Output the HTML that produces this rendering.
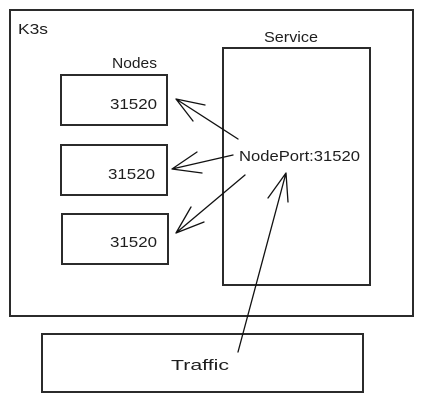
<!DOCTYPE html>
<html><head><meta charset="utf-8"><style>
html,body{margin:0;padding:0;background:#fff;}
svg{display:block;}
text{font-family:"Liberation Sans",sans-serif;fill:#1e1e1e;}
</style></head><body>
<svg width="423" height="403" viewBox="0 0 423 403" xmlns="http://www.w3.org/2000/svg">
<g fill="none" stroke="#2b2b2b" stroke-width="2">
<rect x="10" y="10" width="403" height="306"/>
<rect x="223" y="48" width="147" height="237"/>
<rect x="61" y="75" width="106" height="50"/>
<rect x="61" y="145" width="106" height="50"/>
<rect x="62" y="214" width="106" height="50"/>
<rect x="42" y="334" width="321" height="58"/>
</g>
<g fill="none" stroke="#111" stroke-width="1.3" stroke-linecap="round">
<path d="M238 139 L176 99 M176 99 L205 105 M176 99 L193 121"/>
<path d="M233 155 L172 169 M172 169 L197 152 M172 169 L202 173"/>
<path d="M245 175 L176 233 M176 233 L191 207 M176 233 L204 222"/>
<path d="M238 352 L286 173 M286 173 L268 198 M286 173 L288 202"/>
</g>
<g font-size="15">
<text x="18" y="34" textLength="30" lengthAdjust="spacingAndGlyphs">K3s</text>
<text x="264" y="42" textLength="54" lengthAdjust="spacingAndGlyphs">Service</text>
<text x="112" y="68" textLength="45" lengthAdjust="spacingAndGlyphs">Nodes</text>
<text x="110" y="109" textLength="47" lengthAdjust="spacingAndGlyphs">31520</text>
<text x="108" y="179" textLength="47" lengthAdjust="spacingAndGlyphs">31520</text>
<text x="110" y="247" textLength="47" lengthAdjust="spacingAndGlyphs">31520</text>
<text x="239" y="161" textLength="121" lengthAdjust="spacingAndGlyphs">NodePort:31520</text>
<text x="171" y="370" textLength="58" lengthAdjust="spacingAndGlyphs">Traffic</text>
</g>
</svg>
</body></html>
